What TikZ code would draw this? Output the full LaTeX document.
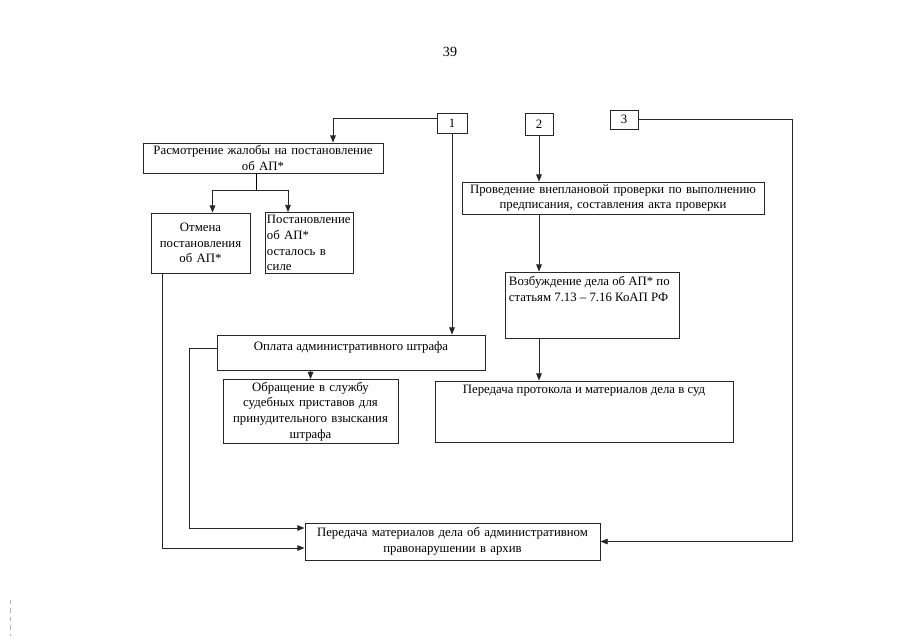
\documentclass[tikz,border=0pt]{standalone}
\usepackage{fontspec}
\setmainfont{Liberation Serif}
\usetikzlibrary{arrows.meta,calc}
\tikzset{box/.style={draw=black!85,line width=.6pt,inner xsep=.05cm,inner ysep=.06cm,
  font=\fontsize{9.1}{11.2}\selectfont},numbox/.style={box,inner sep=0pt},
  flow/.style={-{Triangle[length=1.8mm,width=1.4mm]},line width=.6pt,draw=black!85}}
\newcommand{\toptext}[3]{\parbox[c][#1][t]{#2}{#3}}

\begin{document}
\begin{tikzpicture}[x=0.025cm,y=-0.025cm]
\useasboundingbox (0,0) rectangle (905,640);
\node[font=\fontsize{10}{12}\selectfont] (page) at (450,52) {39};
% numbered entry points
\node[numbox,minimum width=.75cm,minimum height=.5cm] (n1) at (452,123) {1};
\node[numbox,minimum width=.7cm,minimum height=.55cm] (n2) at (539,124) {2};
\node[numbox,minimum width=.7cm,minimum height=.475cm] (n3) at (624,119.5) {3};
% branch 1
\node[box,text width=5.9cm,minimum height=.75cm,align=center] (review) at (263,158)
  {Расмотрение жалобы на постановление\\об АП*};
\node[box,text width=2.375cm,minimum height=1.5cm,align=center] (cancel) at (200.5,243)
  {Отмена\\постановления\\об АП*};
\node[box,text width=2.1cm,minimum height=1.525cm,align=left] (remain) at (309,243)
  {Постановление\\об АП*\\осталось в\\силе};
\node[box,inner ysep=.16cm] (pay) at (351,352.5)
  {\toptext{.555cm}{6.6cm}{\centering Оплата административного штрафа}};
\node[box,text width=4.275cm,minimum height=1.575cm,align=center] (bailiff) at (310.5,411.5)
  {Обращение в службу\\судебных приставов для\\принудительного взыскания\\штрафа};
% branch 2
\node[box,text width=7.45cm,minimum height=.75cm,align=center] (check) at (613,198)
  {Проведение внеплановой проверки по выполнению\\предписания, составления акта проверки};
\node[box,inner xsep=.1cm,inner ysep=.12cm] (initiate) at (592,305)
  {\toptext{1.41cm}{4.15cm}{\raggedright Возбуждение дела об АП* по\\статьям 7.13 -- 7.16 КоАП РФ}};
\node[box,inner ysep=.1cm] (court) at (584,411.5)
  {\toptext{1.325cm}{7.35cm}{\centering Передача протокола и материалов дела в суд}};
% archive
\node[box,text width=7.275cm,minimum height=.925cm,align=center] (archive) at (452.5,541.5)
  {Передача материалов дела об административном\\правонарушении в архив};

\draw[flow] ($(n1.west)+(0,-5)$) -| ($(review.north)+(70,0)$);
\draw[flow] (n1.south) -- (n1.south |- pay.north);
\draw (review.south) ++(-7,0) -- ++(0,17) coordinate (split);
\draw[flow] (split) -| ($(cancel.north)+(12,0)$);
\draw[flow] (split) -| ($(remain.north)+(-21,0)$);
\draw[flow] ($(cancel.south west)+(12,0)$) |- ($(archive.west)+(0,6.5)$);
\draw[flow] ($(pay.west)+(0,-4.5)$) -- ++(-27,0) |- ($(archive.west)+(0,-13.5)$);
\draw[flow] (bailiff.north |- pay.south) -- (bailiff.north);
\draw[flow] (n2.south) -- (n2.south |- check.north);
\draw[flow] (n2.south |- check.south) -- (n2.south |- initiate.north);
\draw[flow] (n2.south |- initiate.south) -- (n2.south |- court.north);
\draw[flow] (n3.east) -| ($(archive.east)+(192,0)$) -- (archive.east);
\draw[gray!60,dashed] (10,600) -- (10,636);
\end{tikzpicture}
\end{document}
